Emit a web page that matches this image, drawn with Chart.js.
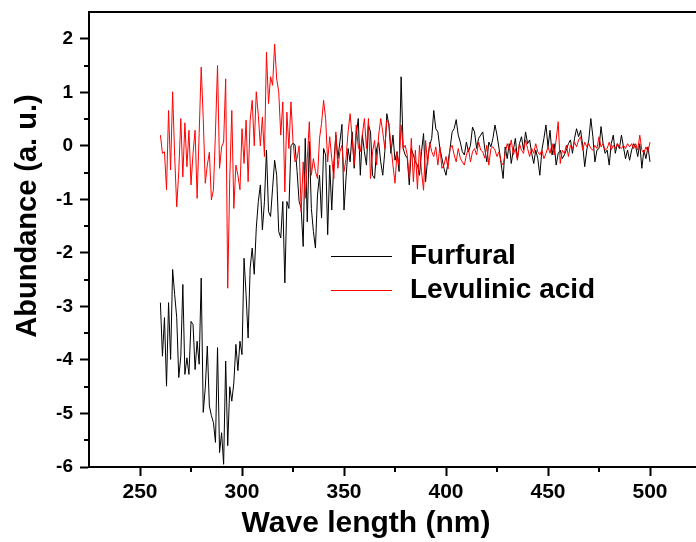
<!DOCTYPE html>
<html>
<head>
<meta charset="utf-8">
<script src="https://cdn.jsdelivr.net/npm/chart.js@4.4.1/dist/chart.umd.min.js"></script>
<style>
  html, body { margin: 0; padding: 0; background: #fff; overflow: hidden; }
  #wrap { width: 706px; height: 542px; }
</style>
</head>
<body>
<div id="wrap"><canvas id="specChart" width="706" height="542"></canvas></div>
<script>
// wavelength grid (nm), one point per nm
const waveStart = 260;
const waveStep = 1;

// Furfural, 260..500 nm
const furfural = [
  -2.93, -3.93, -3.21, -4.49, -2.93, -3.99, -2.31, -2.78, -3.21, -4.33, // 260
  -3.93, -2.59, -4.27, -3.96, -4.27, -3.28, -3.34, -4.18, -3.65, -4.08, // 270
  -2.47, -4.98, -4.52, -3.74, -4.86, -5.04, -5.17, -5.54, -3.77, -5.73, // 280
  -5.36, -5.95, -4.02, -5.60, -4.50, -4.77, -4.43, -3.71, -4.20, -3.65, // 290
  -3.90, -2.10, -2.78, -3.59, -2.28, -1.91, -2.40, -1.54, -1.04, -0.73, // 300
  -1.57, -1.04, -0.08, -1.23, -1.32, -0.79, -0.27, -0.55, -1.60, -1.72, // 310
  -1.04, -2.56, -1.04, -1.17, 0.00, 0.05, 0.02, -0.48, -1.04, -1.17,    // 320
  -1.88, 0.14, -1.42, 0.08, -1.17, -1.60, -1.91, -0.92, -0.55, -1.35,   // 330
  -0.05, -0.17, -1.66, -0.36, -1.20, -0.33, 0.20, -0.24, 0.08, 0.40,    // 340
  -1.20, -0.60, -0.05, -0.30, 0.26, -0.42, 0.20, 0.51, -0.55, 0.20,     // 350
  -0.11, -0.36, 0.39, 0.26, -0.55, -0.61, -0.05, 0.07, -0.30, -0.55,    // 360
  -0.11, 0.60, 0.39, -0.14, 0.20, -0.27, -0.11, -0.48, 1.29, -0.05,     // 370
  -0.17, -0.23, -0.73, -0.05, -0.17, -0.30, -0.36, -0.55, -0.11, 0.23,  // 380
  -0.67, -0.23, 0.01, 0.14, 0.66, 0.32, 0.26, -0.05, -0.23, -0.42,      // 390
  -0.55, -0.30, -0.05, 0.26, 0.32, 0.49, 0.20, 0.07, -0.11, -0.17,      // 400
  0.07, -0.11, 0.01, 0.35, 0.26, -0.05, 0.14, 0.20, 0.26, -0.05,        // 410
  -0.30, 0.07, -0.02, 0.14, 0.39, 0.20, -0.05, -0.33, -0.61, -0.02,     // 420
  -0.24, 0.04, -0.33, -0.08, 0.14, -0.24, 0.04, 0.17, -0.08, 0.26,      // 430
  0.04, 0.11, -0.14, -0.33, -0.08, -0.24, -0.55, -0.08, 0.14, 0.39,     // 440
  -0.02, 0.29, -0.17, 0.04, -0.36, -0.14, -0.08, -0.24, -0.17, -0.08,   // 450
  0.04, 0.11, -0.14, 0.14, 0.32, 0.17, 0.29, 0.01, -0.39, -0.08,        // 460
  0.11, 0.51, 0.17, -0.30, -0.08, -0.05, 0.36, 0.04, -0.14, -0.08,      // 470
  -0.36, 0.04, 0.20, -0.14, 0.04, -0.05, 0.20, -0.02, -0.24, -0.08,     // 480
  -0.27, -0.08, 0.04, -0.02, -0.20, 0.04, -0.42, -0.08, -0.24, -0.02,   // 490
  -0.30                                                                 // 500
];

// Levulinic acid, 260..500 nm
const levulinic = [
  0.20, -0.14, -0.11, -0.82, 0.66, -0.45, 1.01, -0.20, -1.14, -0.48,    // 260
  0.51, -0.58, 0.43, -0.39, 0.29, -0.73, -0.14, 0.29, -0.98, 0.23,      // 270
  1.47, 0.51, -0.70, -0.36, -0.12, -1.01, -0.82, 0.26, 1.50, -0.42,     // 280
  -0.02, 0.07, 1.25, -2.66, -0.61, 0.66, -1.17, -0.36, -0.55, -0.82,    // 290
  0.32, -0.33, 0.48, -0.67, 0.48, 0.85, 0.00, 1.01, 0.57, 0.00,         // 300
  0.54, -0.20, 1.75, 0.79, 1.29, 1.13, 1.90, 1.25, 1.01, 0.20,          // 310
  0.82, -0.86, 0.63, -0.05, 0.82, 0.08, -0.30, -0.24, 0.00, -1.23,      // 320
  -0.30, -0.98, -0.24, 0.45, -0.55, -0.24, -0.48, -0.61, 0.14, 0.42,    // 330
  0.85, 0.51, -0.30, 0.17, -0.24, -0.61, 0.26, -0.42, -0.11, 0.01,      // 340
  -0.48, -0.24, 0.26, 0.60, 0.14, -0.36, 0.39, -0.02, -0.11, 0.20,      // 350
  0.51, -0.05, 0.51, -0.61, -0.11, 0.10, -0.36, 0.20, 0.51, 0.26,       // 360
  -0.05, 0.48, 0.42, 0.01, -0.36, -0.70, -0.11, -0.36, 0.39, -0.05,     // 370
  0.01, -0.17, -0.61, 0.14, -0.67, -0.08, -0.81, 0.01, -0.48, -0.83,    // 380
  0.10, -0.36, 0.07, -0.11, -0.20, -0.02, -0.36, -0.02, -0.42, -0.36,   // 390
  -0.20, -0.43, -0.05, 0.01, -0.17, -0.30, -0.05, -0.23, -0.30, -0.36,  // 400
  -0.17, -0.05, -0.30, -0.11, -0.05, -0.17, 0.07, -0.08, -0.11, -0.23,  // 410
  0.01, -0.36, -0.05, -0.02, -0.08, -0.20, -0.11, -0.30, -0.36, -0.14,  // 420
  0.04, -0.08, 0.11, -0.17, -0.05, -0.27, 0.04, -0.08, -0.14, 0.11,     // 430
  -0.05, -0.20, -0.05, -0.14, 0.04, -0.11, -0.17, -0.08, -0.24, -0.14,  // 440
  -0.02, -0.14, 0.04, -0.17, 0.11, 0.45, -0.33, -0.08, -0.14, 0.01,     // 450
  -0.20, 0.01, -0.05, 0.07, -0.02, 0.11, 0.17, -0.08, 0.07, -0.02,      // 460
  0.04, -0.05, -0.08, 0.01, -0.05, 0.17, -0.02, 0.04, -0.08, -0.05,     // 470
  0.07, -0.08, 0.01, -0.05, 0.04, -0.02, -0.05, 0.01, -0.05, 0.04,      // 480
  -0.02, 0.04, -0.05, 0.04, -0.08, 0.20, -0.08, -0.14, -0.02, -0.11,    // 490
  0.07                                                                  // 500
];

const seriesNames = ['Furfural', 'Levulinic acid'];
const seriesColors = ['#000000', '#ff0000'];

const xTicks = [250, 300, 350, 400, 450, 500];
const xMinorTicks = [275, 325, 375, 425, 475];
const yTicks = [-6, -5, -4, -3, -2, -1, 0, 1, 2];
const yMinorTicks = [-5.5, -4.5, -3.5, -2.5, -1.5, -0.5, 0.5, 1.5];

const xTitle = 'Wave length (nm)';
const yTitle = 'Abundance (a. u.)';

const wavelengths = furfural.map((_, i) => waveStart + i * waveStep);

const FONT = '"Liberation Sans", Arial, Helvetica, sans-serif';

// frame, minor ticks, axis titles and the in-plot legend
const extrasPlugin = {
    id: 'extras',
    afterDraw(chart) {
        const ctx = chart.ctx;
        const a = chart.chartArea;
        const xs = chart.scales.x;
        const ys = chart.scales.y;
        ctx.save();
        ctx.strokeStyle = '#000';
        ctx.lineWidth = 2;
        ctx.strokeRect(a.left, a.top, a.right - a.left, a.bottom - a.top);

        // minor ticks
        ctx.beginPath();
        xMinorTicks.forEach(v => {
            const px = Math.round(xs.getPixelForValue(v));
            ctx.moveTo(px, a.bottom);
            ctx.lineTo(px, a.bottom + 5);
        });
        yMinorTicks.forEach(v => {
            const py = Math.round(ys.getPixelForValue(v));
            ctx.moveTo(a.left, py);
            ctx.lineTo(a.left - 5, py);
        });
        ctx.stroke();

        // axis titles (placed like the original, not centred on the axis)
        ctx.fillStyle = '#000';
        ctx.textBaseline = 'alphabetic';
        ctx.textAlign = 'center';
        ctx.font = 'bold 30px ' + FONT;
        ctx.fillText(xTitle, 366, 532);
        ctx.save();
        ctx.translate(36, 216);
        ctx.rotate(-Math.PI / 2);
        ctx.font = 'bold 29px ' + FONT;
        ctx.fillText(yTitle, 0, 0);
        ctx.restore();

        // legend
        const lx = 331, ly = [256, 290];
        ctx.font = 'bold 28px ' + FONT;
        ctx.textBaseline = 'middle';
        ctx.textAlign = 'left';
        seriesNames.forEach((name, i) => {
            ctx.strokeStyle = seriesColors[i];
            ctx.lineWidth = 1;
            ctx.beginPath();
            ctx.moveTo(lx, ly[i] + 0.5);
            ctx.lineTo(lx + 61, ly[i] + 0.5);
            ctx.stroke();
            ctx.fillStyle = '#000';
            ctx.fillText(name, lx + 79, ly[i]);
        });
        ctx.restore();
    }
};

const ctx = document.getElementById('specChart').getContext('2d');
const specChart = new Chart(ctx, {
    type: 'line',
    data: {
        labels: wavelengths,
        datasets: [{
            label: seriesNames[0],
            data: furfural,
            borderColor: seriesColors[0],
            borderWidth: 1,
            pointRadius: 0,
            tension: 0,
            order: 2
        }, {
            label: seriesNames[1],
            data: levulinic,
            borderColor: seriesColors[1],
            borderWidth: 1,
            pointRadius: 0,
            tension: 0,
            order: 1
        }]
    },
    options: {
        responsive: false,
        animation: false,
        layout: { padding: { top: 12, right: 5, left: 0, bottom: 0 } },
        plugins: { legend: { display: false }, tooltip: { enabled: false } },
        scales: {
            x: {
                type: 'linear',
                min: 225,
                max: 525,
                afterBuildTicks: s => { s.ticks = xTicks.map(v => ({ value: v })); },
                afterFit: s => { s.height = 75; s.paddingLeft = 0; s.paddingRight = 0; },
                grid: { drawOnChartArea: false, drawTicks: true, tickLength: 9, tickWidth: 2, tickColor: '#000' },
                border: { display: true, color: '#000', width: 2 },
                ticks: {
                    color: '#000',
                    padding: 4,
                    maxRotation: 0,
                    font: { family: FONT, size: 21, weight: 'bold' }
                },
                title: { display: false }
            },
            y: {
                min: -6,
                max: 2.5,
                afterBuildTicks: s => { s.ticks = yTicks.map(v => ({ value: v })); },
                afterFit: s => { s.width = 89; s.paddingTop = 0; s.paddingBottom = 0; },
                grid: { drawOnChartArea: false, drawTicks: true, tickLength: 9, tickWidth: 2, tickColor: '#000' },
                border: { display: true, color: '#000', width: 2 },
                ticks: {
                    color: '#000',
                    padding: 7,
                    font: { family: FONT, size: 19, weight: 'bold' }
                },
                title: { display: false }
            }
        }
    },
    plugins: [extrasPlugin]
});
</script>
</body>
</html>
